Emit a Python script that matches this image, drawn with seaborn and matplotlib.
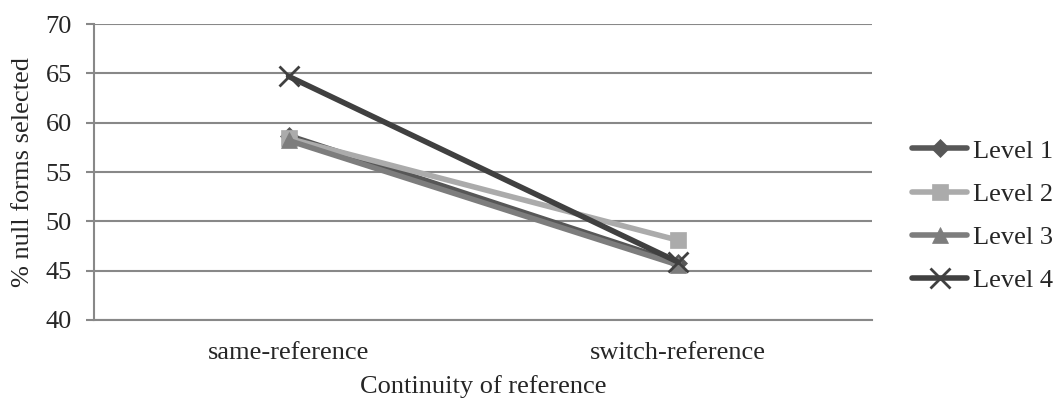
import matplotlib
matplotlib.use("Agg")
import matplotlib.pyplot as plt
import seaborn as sns
import pandas as pd

categories = ["same-reference", "switch-reference"]
levels = ["Level 1", "Level 2", "Level 3", "Level 4"]
level1 = [58.7, 45.8]
level2 = [58.4, 48.1]
level3 = [58.2, 45.6]
level4 = [64.7, 45.9]
yticks = [40, 45, 50, 55, 60, 65, 70]

colors = ["#575757", "#ababab", "#7d7d7d", "#404040"]
markers = ["D", "s", "^", "x"]
msizes = [9, 12, 12, 14]

sns.set_style("white")
plt.rcParams["font.family"] = ["Liberation Serif", "DejaVu Serif"]

rows = []
for lev, vals in zip(levels, [level1, level2, level3, level4]):
    for i, (c, v) in enumerate(zip(categories, vals)):
        rows.append({"level": lev, "cat": c, "x": i, "value": v})
df = pd.DataFrame(rows)

FS = 19
fig = plt.figure(figsize=(10.53, 4.01), dpi=100)
ax = fig.add_axes([0.0893, 0.202, 0.7388, 0.738])

for lev, col, mk, ms in zip(levels, colors, markers, msizes):
    d = df[df.level == lev]
    sns.lineplot(data=d, x="x", y="value", ax=ax, color=col, linewidth=4,
                 marker=mk, markersize=ms, markeredgecolor=col,
                 markeredgewidth=2 if mk == "x" else 0.5, label=lev)

ax.set_xlim(-0.5, 1.5)
ax.set_ylim(40, 70)
ax.set_yticks(yticks)
ax.set_xticks([0, 1])
ax.set_xticklabels(categories, fontsize=FS)
ax.tick_params(axis="y", labelsize=FS, length=6, width=1.5, color="#888888",
               direction="out", left=True, pad=10)
ax.tick_params(axis="x", length=0, pad=16)
ax.grid(axis="y", color="#888888", linewidth=1.5)
ax.set_axisbelow(True)
for s in ["top", "right"]:
    ax.spines[s].set_visible(False)
for s in ["left", "bottom"]:
    ax.spines[s].set_color("#888888")
    ax.spines[s].set_linewidth(1.5)
ax.set_xlabel("Continuity of reference", fontsize=FS, labelpad=8)
ax.set_ylabel("% null forms selected", fontsize=FS, labelpad=8)

ax.legend(loc="center left", bbox_to_anchor=(1.0514, 0.352), frameon=False,
          fontsize=FS, handlelength=2.1, labelspacing=0.75, handletextpad=0.2,
          borderaxespad=0, borderpad=0)

fig.savefig("out.png", dpi=100)
